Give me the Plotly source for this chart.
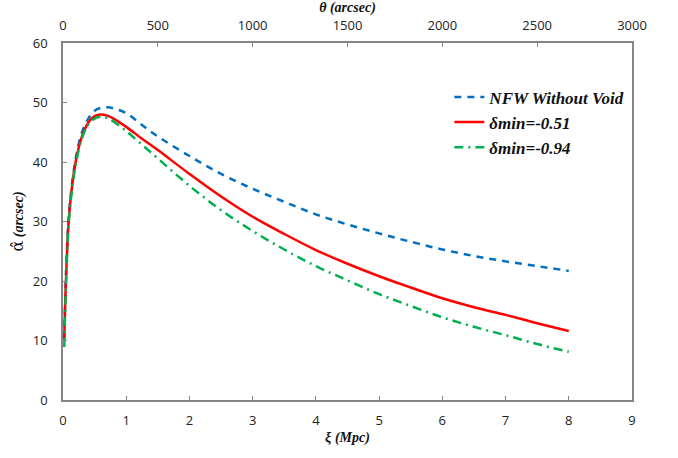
import plotly.graph_objects as go

xi = [0.02, 0.05, 0.1, 0.2, 0.3, 0.4, 0.5, 0.6, 0.7, 0.8, 1.0, 1.25, 1.5, 2.0, 2.5,
      3.0, 3.5, 4.0, 4.5, 5.0, 5.5, 6.0, 6.5, 7.0, 7.5, 8.0]
nfw = [10.0, 22.0, 32.0, 40.5, 45.0, 47.3, 48.6, 49.1, 49.2, 49.0, 48.2, 46.2, 44.3, 41.0, 38.0,
       35.5, 33.3, 31.2, 29.5, 28.0, 26.6, 25.3, 24.2, 23.3, 22.5, 21.7]
d051 = [10.4, 21.0, 31.5, 40.0, 44.3, 46.6, 47.7, 48.0, 47.8, 47.3, 45.9, 43.9, 42.0, 38.0, 34.2,
        30.8, 27.9, 25.2, 22.9, 20.8, 18.9, 17.1, 15.6, 14.3, 12.9, 11.6]
d094 = [8.9, 20.0, 31.0, 39.5, 44.0, 46.3, 47.3, 47.6, 47.4, 46.8, 45.2, 42.9, 40.6, 36.0, 31.9,
        28.4, 25.3, 22.5, 20.1, 17.8, 15.8, 13.9, 12.3, 10.9, 9.4, 8.1]
names = ["NFW Without Void", "δmin=-0.51", "δmin=-0.94"]
theta_ticks = [0, 500, 1000, 1500, 2000, 2500, 3000]
xi_ticks = [0, 1, 2, 3, 4, 5, 6, 7, 8, 9]
y_ticks = [0, 10, 20, 30, 40, 50, 60]

fig = go.Figure()
fig.add_trace(go.Scatter(x=xi, y=nfw, mode="lines", name=names[0], line_shape="spline",
                         line=dict(color="#0070C0", width=2.5, dash="7px,6px")))
fig.add_trace(go.Scatter(x=xi, y=d051, mode="lines", name=names[1], line_shape="spline",
                         line=dict(color="#FF0000", width=2.5)))
fig.add_trace(go.Scatter(x=xi, y=d094, mode="lines", name=names[2], line_shape="spline",
                         line=dict(color="#00B050", width=2.5, dash="9px,5px,2px,5px")))
fig.add_trace(go.Scatter(x=[theta_ticks[0], theta_ticks[-1]], y=[None, None], xaxis="x2",
                         mode="lines", showlegend=False, hoverinfo="skip"))

tickfont = dict(family="Open Sans, Liberation Sans, sans-serif", size=13, color="#222222")
axcol = "#868686"
fig.update_layout(
    width=678, height=458,
    margin=dict(l=63, r=46, t=43, b=58, autoexpand=False),
    paper_bgcolor="white", plot_bgcolor="white",
    showlegend=True,
    legend=dict(x=0.679, y=0.898, xanchor="left", yanchor="top",
                font=dict(family="Liberation Serif, serif", size=17, color="#111111",
                          weight="bold", style="italic"),
                bgcolor="rgba(0,0,0,0)", tracegroupgap=0),
    xaxis=dict(range=[0, 9], tickvals=xi_ticks, ticks="inside", ticklen=4, tickcolor=axcol,
               showline=True, linecolor=axcol, linewidth=1.5, mirror=True, showgrid=False,
               zeroline=False, tickfont=tickfont, ticklabelstandoff=8, automargin=False,
               title=dict(text="<b><i>ξ (Mpc)</i></b>", standoff=4,
                          font=dict(family="Liberation Serif, serif", size=14, color="#111111"))),
    xaxis2=dict(range=[0, 3000], tickvals=theta_ticks, overlaying="x", side="top", anchor="y",
                ticks="inside", ticklen=4, tickcolor=axcol, showline=True, linecolor=axcol,
                linewidth=1.5, showgrid=False, zeroline=False, tickfont=tickfont,
                ticklabelstandoff=6, automargin=False,
                title=dict(text="<b><i>θ (arcsec)</i></b>", standoff=0,
                           font=dict(family="Liberation Serif, serif", size=14, color="#111111"))),
    yaxis=dict(range=[0, 60], tickvals=y_ticks, ticks="inside", ticklen=4, tickcolor=axcol,
               showline=True, linecolor=axcol, linewidth=1.5, mirror=True, showgrid=False,
               zeroline=False, tickfont=tickfont, ticklabelstandoff=11, automargin=False,
               title=dict(text="<span style='font-family:DejaVu Serif;font-size:16px'>α̂</span> <b><i>(arcsec)</i></b>",
                          standoff=6,
                          font=dict(family="Liberation Serif, serif", size=14, color="#111111"))),
)

fig.write_html("out.html")
